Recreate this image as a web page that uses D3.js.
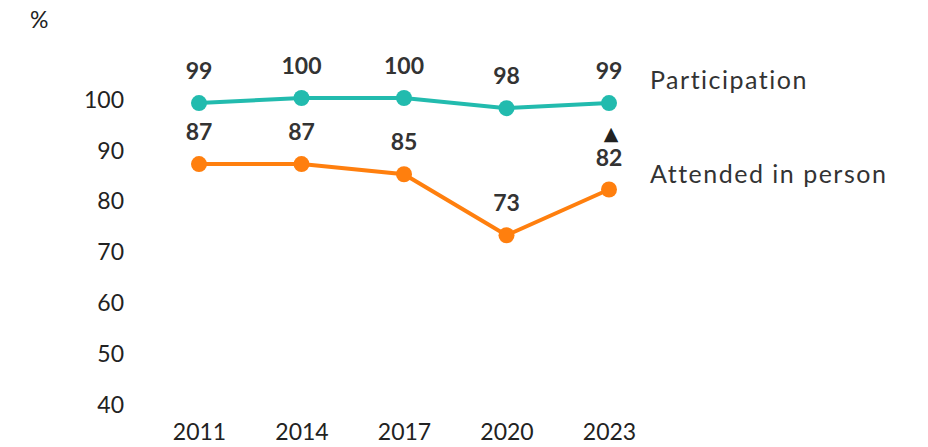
<!DOCTYPE html>
<html>
<head>
<meta charset="utf-8">
<script src="https://cdn.jsdelivr.net/npm/d3@7"></script>
<style>
  html, body { margin: 0; padding: 0; background: #fff; }
  svg { display: block; }
  text { font-family: "Lato", "DejaVu Sans", sans-serif; }
</style>
</head>
<body>
<svg id="chart" width="928" height="447"></svg>
<script>
// Survey years and shares (%)
const years = ["2011", "2014", "2017", "2020", "2023"];
const participation = [99, 100, 100, 98, 99];
const attendedInPerson = [87, 87, 85, 73, 82];
const yTicks = [40, 50, 60, 70, 80, 90, 100];
const seriesNames = ["Participation", "Attended in person"];
const seriesColors = ["#22BBAE", "#FF7F0E"];
// Point flagged as a significant increase
const flaggedIndex = 4;

const svg = d3.select("#chart");
const font = "Lato, DejaVu Sans, sans-serif";

const x = d3.scalePoint().domain(years).range([199, 609]);
const y = d3.scaleLinear().domain([40, 100]).range([403, 98]);

// Y axis labels
const yAxis = d3.axisLeft(y).tickValues(yTicks).tickSize(0).tickPadding(0);
const gy = svg.append("g").attr("transform", "translate(124,0)").call(yAxis);
gy.select(".domain").remove();
gy.selectAll("text")
  .attr("font-size", 23).attr("fill", "#222").attr("dy", "0.4em")
  .style("font-family", font);

// X axis labels
const xAxis = d3.axisBottom(x).tickSize(0).tickPadding(0);
const gx = svg.append("g").attr("transform", "translate(0,424)").call(xAxis);
gx.select(".domain").remove();
gx.selectAll("text")
  .attr("font-size", 23).attr("fill", "#222")
  .style("font-family", font);

// Unit label
svg.append("text").attr("x", 30).attr("y", 28)
  .attr("font-size", 23).attr("fill", "#222").text("%");

const series = [participation, attendedInPerson];
const line = d3.line().x((d, i) => x(years[i])).y(d => y(d));

series.forEach((vals, s) => {
  const g = svg.append("g");
  g.append("path").datum(vals)
    .attr("d", line)
    .attr("fill", "none")
    .attr("stroke", seriesColors[s])
    .attr("stroke-width", 4);
  g.selectAll("circle").data(vals).join("circle")
    .attr("cx", (d, i) => x(years[i]))
    .attr("cy", d => y(d))
    .attr("r", 8)
    .attr("fill", seriesColors[s]);
  g.selectAll("text.val").data(vals).join("text")
    .attr("class", "val")
    .attr("x", (d, i) => x(years[i]))
    .attr("y", d => y(d) - 24)
    .attr("text-anchor", "middle")
    .attr("font-size", 23)
    .attr("font-weight", 700)
    .attr("fill", "#333")
    .text(d => d);
  // Series name at the end of the line
  svg.append("text")
    .attr("x", 650)
    .attr("y", s === 0 ? 89 : 183)
    .attr("font-size", 25)
    .attr("letter-spacing", 1.5)
    .attr("fill", "#333")
    .text(seriesNames[s]);
});

// Increase marker above the flagged value
svg.append("text")
  .attr("x", x(years[flaggedIndex]) + 2)
  .attr("y", y(attendedInPerson[flaggedIndex]) - 50)
  .attr("text-anchor", "middle")
  .attr("font-size", 19)
  .attr("fill", "#222")
  .style("font-family", "DejaVu Sans, sans-serif")
  .text("▲");
</script>
</body>
</html>
